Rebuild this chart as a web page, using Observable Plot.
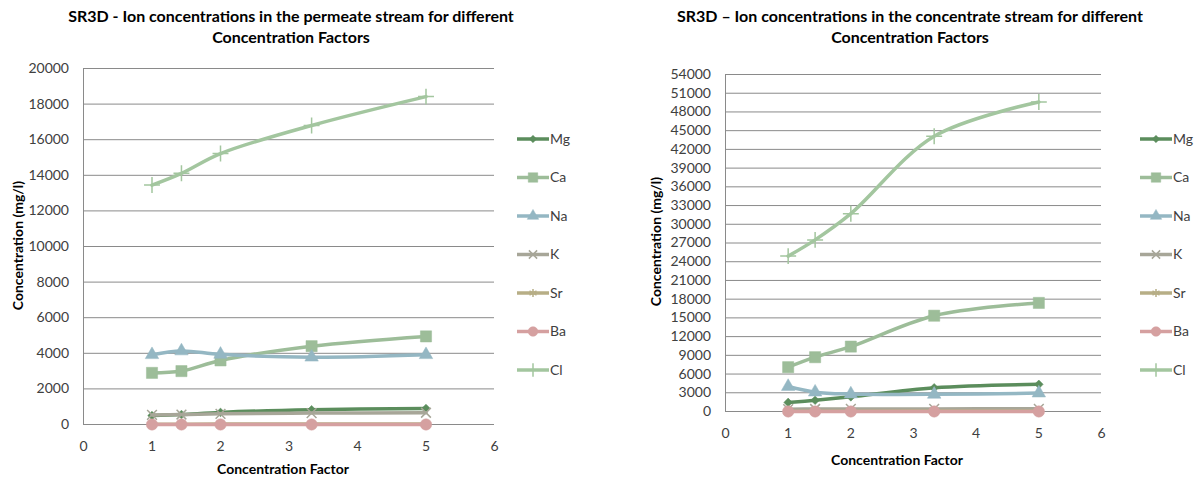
<!DOCTYPE html>
<html>
<head>
<meta charset="utf-8">
<script src="https://cdn.jsdelivr.net/npm/d3@7"></script>
<script src="https://cdn.jsdelivr.net/npm/@observablehq/plot@0.6"></script>
<style>
  html, body { margin: 0; padding: 0; background: #fff; }
  #page { position: relative; width: 1203px; height: 480px; overflow: hidden; font-family: Lato, "Liberation Sans", sans-serif; }
  .panel { position: absolute; top: 0; }
  .title { position: absolute; width: 600px; text-align: center; font-weight: bold; font-size: 16px; line-height: 21px; color: #000; white-space: nowrap; }
  .xlabel { position: absolute; width: 300px; text-align: center; font-weight: bold; font-size: 14px; color: #000; }
  .ylabel { position: absolute; width: 300px; text-align: center; font-weight: bold; font-size: 14px; color: #000; transform: rotate(-90deg); transform-origin: center center; }
  svg.legend { position: absolute; top: 0; overflow: visible; }
</style>
</head>
<body>
<div id="page"></div>
<script>
// Concentration factors (x values shared by both panels)
const factors = [1, 1.43, 2, 3.33, 5];

// Ions, in series order
const ions = ["Mg", "Ca", "Na", "K", "Sr", "Ba", "Cl"];
const ionColors = ["#5b8d5c", "#9dbd99", "#94b7c3", "#a7a698", "#b7ae86", "#d5a0a0", "#a3c69f"];
const ionSymbols = ["diamond2", "square", "triangle", "times", "asterisk", "circle", "plus"];

// Permeate stream concentrations (mg/l)
const permeateMg = [500, 560, 680, 830, 900];
const permeateCa = [2900, 3000, 3600, 4400, 4950];
const permeateNa = [3920, 4130, 3940, 3780, 3920];
const permeateK  = [540, 560, 600, 640, 660];
const permeateSr = [20, 20, 25, 30, 35];
const permeateBa = [1, 1, 1, 1, 1];
const permeateCl = [13450, 14110, 15220, 16800, 18420];

// Concentrate stream concentrations (mg/l)
const concentrateMg = [1450, 1800, 2350, 3800, 4350];
const concentrateCa = [7100, 8700, 10400, 15350, 17400];
const concentrateNa = [4000, 3100, 2800, 2750, 2950];
const concentrateK  = [380, 400, 420, 420, 430];
const concentrateSr = [40, 50, 60, 70, 80];
const concentrateBa = [2, 2, 3, 4, 5];
const concentrateCl = [24900, 27500, 31700, 44100, 49600];

// Axis ticks
const xTicks = [0, 1, 2, 3, 4, 5, 6];
const permeateTicks = [0, 2000, 4000, 6000, 8000, 10000, 12000, 14000, 16000, 18000, 20000];
const concentrateTicks = d3.range(0, 54001, 3000);

const permeateSeries = [permeateMg, permeateCa, permeateNa, permeateK, permeateSr, permeateBa, permeateCl];
const concentrateSeries = [concentrateMg, concentrateCa, concentrateNa, concentrateK, concentrateSr, concentrateBa, concentrateCl];

// Marker styling per ion
const markerR = { diamond2: 3.9, square: 6.3, triangle: 5, times: 4.5, asterisk: 4.5, circle: 5.7, plus: 5.2 };
const filled = { diamond2: true, square: true, triangle: true, circle: true };

const gridColor = "#8a8a8a";
const tickColor = "#404040";

function buildChart({ series, yTicks, yMax, width, marginLeft, marginRight, marginTop, marginBottom, xTickPad }) {
  const marks = [
    Plot.ruleY(yTicks, { stroke: gridColor, strokeWidth: 1 }),
    Plot.ruleX([0], { stroke: gridColor, strokeWidth: 1 }),
    Plot.axisY(yTicks, { tickSize: 0, tickPadding: 14.5, fontSize: 14, fill: tickColor, label: null, tickFormat: d => String(d) }),
    Plot.axisX(xTicks, { tickSize: 0, tickPadding: xTickPad, fontSize: 14, fill: tickColor, label: null, tickFormat: d => String(d) })
  ];
  ions.forEach((ion, i) => {
    const rows = factors.map((f, j) => ({ ion, factor: f, value: series[i][j] }));
    const sym = ionSymbols[i];
    marks.push(Plot.line(rows, {
      x: "factor", y: "value", stroke: ionColors[i], strokeWidth: 3.5,
      curve: "catmull-rom", strokeLinejoin: "round", strokeLinecap: "round"
    }));
    marks.push(Plot.dot(rows, filled[sym]
      ? { x: "factor", y: "value", symbol: () => sym, r: markerR[sym], fill: ionColors[i], stroke: ionColors[i], strokeWidth: 0.5 }
      : { x: "factor", y: "value", symbol: () => sym, r: markerR[sym], fill: "none", stroke: ionColors[i], strokeWidth: 1.5 }));
  });
  return Plot.plot({
    width, height: 480,
    marginLeft, marginRight, marginTop, marginBottom,
    x: { domain: [0, 6], axis: null },
    y: { domain: [0, yMax], axis: null },
    symbol: { type: "identity" },
    style: { fontFamily: "Lato, 'Liberation Sans', sans-serif", background: "transparent", overflow: "visible" },
    marks
  });
}

const d3Symbols = {
  diamond2: d3.symbolDiamond2, square: d3.symbolSquare, triangle: d3.symbolTriangle,
  times: d3.symbolTimes, asterisk: d3.symbolAsterisk, circle: d3.symbolCircle, plus: d3.symbolPlus
};

function buildLegend(left) {
  const svg = d3.create("svg").attr("class", "legend").attr("width", 70).attr("height", 480)
    .style("left", left + "px");
  ions.forEach((ion, i) => {
    const y = 139 + i * 38.5;
    const sym = ionSymbols[i];
    const g = svg.append("g").attr("transform", `translate(0,${y})`);
    g.append("line").attr("x1", 2).attr("x2", 34).attr("y1", 0).attr("y2", 0)
      .attr("stroke", ionColors[i]).attr("stroke-width", 3.5);
    const r = markerR[sym] * 0.85;
    g.append("path").attr("transform", "translate(18,0)")
      .attr("d", d3.symbol(d3Symbols[sym], Math.PI * r * r)())
      .attr("fill", filled[sym] ? ionColors[i] : "none")
      .attr("stroke", ionColors[i]).attr("stroke-width", filled[sym] ? 0.5 : 1.5);
    g.append("text").attr("x", 35).attr("y", 0).attr("dy", "0.35em")
      .attr("font-size", 14).attr("fill", tickColor)
      .attr("font-family", "Lato, 'Liberation Sans', sans-serif").text(ion);
  });
  return svg.node();
}

function addText(cls, html, style) {
  const el = document.createElement("div");
  el.className = cls;
  el.innerHTML = html;
  Object.assign(el.style, style);
  page.appendChild(el);
}

const page = document.getElementById("page");

// Permeate panel
const left = buildChart({
  series: permeateSeries, yTicks: permeateTicks, yMax: 20000,
  width: 500, marginLeft: 83, marginRight: 6, marginTop: 68, marginBottom: 56, xTickPad: 17
});
left.classList.add("panel");
left.style.left = "0px";
page.appendChild(left);
page.appendChild(buildLegend(515));
addText("title", "SR3D - Ion concentrations in the permeate stream for different<br>Concentration Factors", { left: "-9px", top: "5px" });
addText("xlabel", "Concentration Factor", { left: "133px", top: "460px" });
addText("ylabel", "Concentration (mg/l)", { left: "-133px", top: "237px" });

// Concentrate panel
const right = buildChart({
  series: concentrateSeries, yTicks: concentrateTicks, yMax: 54000,
  width: 505, marginLeft: 125, marginRight: 4, marginTop: 74, marginBottom: 69, xTickPad: 17
});
right.classList.add("panel");
right.style.left = "600px";
page.appendChild(right);
page.appendChild(buildLegend(1138));
addText("title", "SR3D – Ion concentrations in the concentrate stream for different<br>Concentration Factors", { left: "610px", top: "5px" });
addText("xlabel", "Concentration Factor", { left: "747px", top: "451px" });
addText("ylabel", "Concentration (mg/l)", { left: "505px", top: "233px" });
</script>
</body>
</html>
